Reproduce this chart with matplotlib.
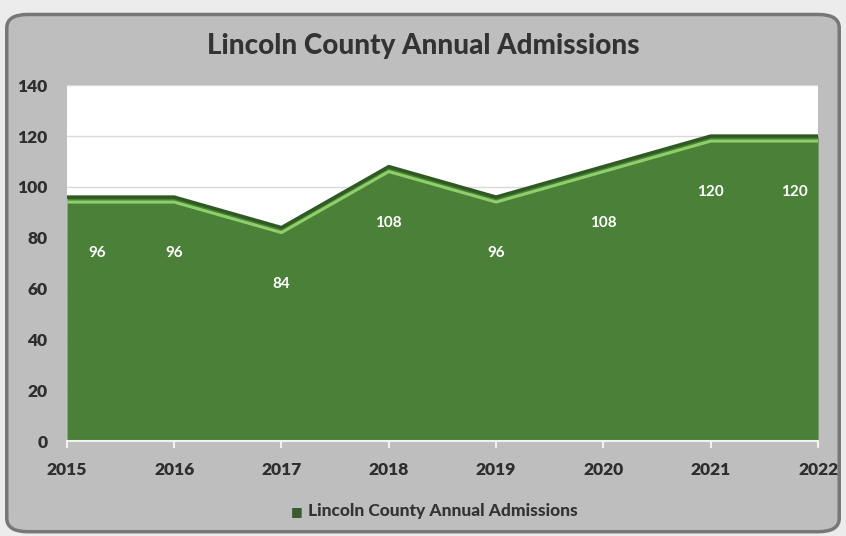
import matplotlib.pyplot as plt
from matplotlib.patches import FancyBboxPatch
from matplotlib.transforms import offset_copy

years = [2015, 2016, 2017, 2018, 2019, 2020, 2021, 2022]
admissions = [96, 96, 84, 108, 96, 108, 120, 120]
y_ticks = [0, 20, 40, 60, 80, 100, 120, 140]
title = "Lincoln County Annual Admissions"

plt.rcParams["font.family"] = ["Lato", "DejaVu Sans"]

fig = plt.figure(figsize=(8.46, 5.36), dpi=100)
fig.patch.set_facecolor("#ececec")

# rounded gray chart panel, kept behind the axes
panel = FancyBboxPatch((0.008, 0.008), 0.984, 0.965,
                       boxstyle="round,pad=0,rounding_size=0.025",
                       transform=fig.transFigure, facecolor="#bebebe",
                       edgecolor="#777777", linewidth=2.5, zorder=-5)
fig.patches.append(panel)

ax = fig.add_axes([0.079, 0.177, 0.888, 0.664])
ax.set_zorder(2)
ax.set_facecolor("white")

green = "#4a8038"
ax.fill_between(years, admissions, 0, color=green, zorder=2, linewidth=0)
ax.plot(years, admissions, color="#2f5a22", lw=2.5, zorder=3)
# lighter bevel line just below the top edge
shifted = offset_copy(ax.transData, fig=fig, x=0, y=-5, units="dots")
ax.plot(years, admissions, color="#8fcf6a", lw=2.2, zorder=3,
        transform=shifted, solid_capstyle="butt")

for i, (x, v) in enumerate(zip(years, admissions)):
    dx = 0.28 if i == 0 else (-0.22 if i == len(years) - 1 else 0)
    ax.text(x + dx, v - 22, str(v), color="white", ha="center", va="center",
            fontsize=11, fontweight="bold", zorder=4)

ax.set_xlim(years[0], years[-1])
ax.set_ylim(0, 140)
ax.set_yticks(y_ticks)
ax.set_xticks(years)
ax.grid(axis="y", color="#d9d9d9", lw=1, zorder=1)
ax.set_axisbelow(True)
for s in ["top", "right", "left"]:
    ax.spines[s].set_visible(False)
ax.spines["bottom"].set_color("#f2f2f2")
ax.spines["bottom"].set_linewidth(1.5)
ax.spines["bottom"].set_zorder(5)
ax.tick_params(axis="x", colors="#f2f2f2", length=5, width=1.5, labelcolor="#2e2e2e",
               labelsize=12.5, pad=10)
ax.tick_params(axis="y", length=0, labelcolor="#2e2e2e", labelsize=12.5, pad=14)
for lab in ax.get_xticklabels() + ax.get_yticklabels():
    lab.set_fontweight("heavy")

fig.text(0.5, 0.915, title, ha="center", va="center", fontsize=20,
         fontweight="black", color="#333333")

# legend entry under the axis
fig.text(0.351, 0.047, "\u25a0", ha="center", va="center", fontsize=9, color="#3a5a30")
fig.text(0.523, 0.047, title, ha="center", va="center", fontsize=12.5,
         fontweight="black", color="#333333")

fig.savefig("out.png", dpi=100, facecolor=fig.get_facecolor())
